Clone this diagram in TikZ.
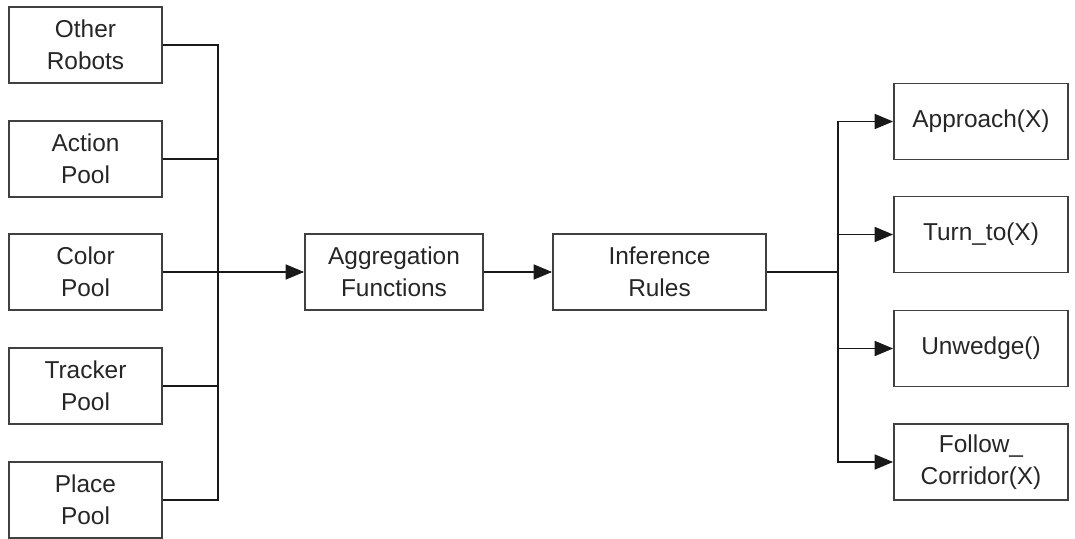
\documentclass[tikz,border=0pt]{standalone}
\usepackage{fontspec}
\setmainfont{Liberation Sans}
\usetikzlibrary{arrows.meta}
\begin{document}
\begin{tikzpicture}[
    box/.style={draw=black!75, line width=1pt, text=black!85, align=center,
      font=\fontsize{13.9}{18}\selectfont, inner sep=0pt},
    srcbox/.style={box, minimum width=3.06cm, minimum height=1.52cm},
    actbox/.style={box, minimum width=3.48cm, minimum height=1.52cm},
    wire/.style={line width=1pt, black!90},
    arr/.style={wire, -{Triangle[length=10.5pt,width=8.5pt]}}
  ]
        \useasboundingbox (0,0) rectangle (21.5,-10.78);
        % Input pools
        \node[srcbox] (robots) at (1.71,-0.9) {Other\\Robots};
        \node[srcbox] (action) at (1.71,-3.18) {Action\\Pool};
        \node[srcbox] (color) at (1.71,-5.44) {Color\\Pool};
        \node[srcbox] (tracker) at (1.71,-7.72) {Tracker\\Pool};
        \node[srcbox] (place) at (1.71,-10.0) {Place\\Pool};
        % Middle stages
        \node[box, minimum width=3.56cm, minimum height=1.52cm] (agg) at (7.88,-5.44) {Aggregation\\Functions};
        \node[box, minimum width=4.26cm, minimum height=1.52cm] (infer) at (13.19,-5.44) {Inference\\Rules};
        % Behaviours
        \node[actbox] (approach) at (19.62,-2.43) {Approach(X)};
        \node[actbox] (turnto) at (19.62,-4.69) {Turn\_to(X)};
        \node[actbox] (unwedge) at (19.62,-6.97) {Unwedge()};
        \node[actbox] (follow) at (19.62,-9.24) {Follow\_\\Corridor(X)};
        % Buses
        \coordinate (lbus) at (4.36,-5.44);
        \coordinate (rbus) at (16.76,-5.44);
        \foreach \src in {robots,action,tracker,place}
          \draw[wire] (\src.east) -| (lbus);
        \draw[wire] (color.east) -- (lbus);
        \draw[arr] (lbus) -- (agg.west);
        \draw[arr] (agg.east) -- (infer.west);
        \draw[wire] (infer.east) -- (rbus);
        \foreach \dst in {approach,turnto,unwedge,follow}
          \draw[arr] (rbus) |- (\dst.west);
      \end{tikzpicture}
\end{document}
